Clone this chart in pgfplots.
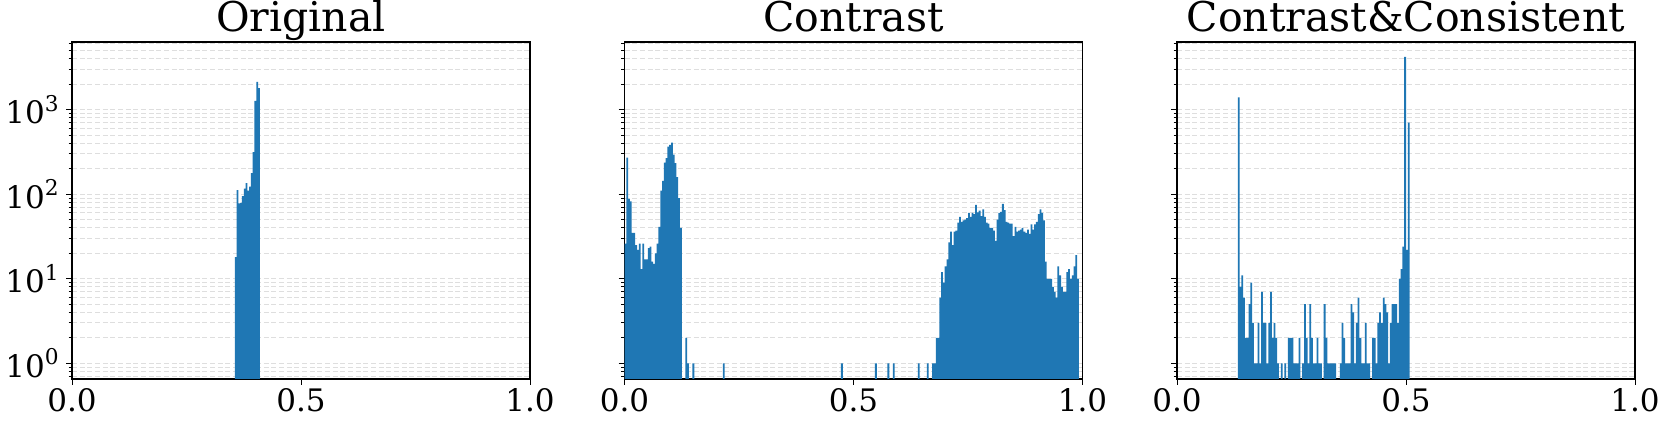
\documentclass[border=0pt]{standalone}
\usepackage{fontspec}
\setmainfont{DejaVu Serif}
\usepackage{pgfplots}
\pgfplotsset{compat=1.18}
\definecolor{barblue}{HTML}{1F77B4}

% bins: 256 equal bins on [0,1]; x = bin index, ticks relabelled
\pgfplotsset{every axis/.append style={
  scale only axis, width=137.4pt, height=101.1pt,
  xmin=-0.5, xmax=255.5, ymin=0.653, ymax=6310,
  xtick={-0.5,127.5,255.5}, xticklabels={0.0,0.5,1.0},
  ytick={1,10,100,1000},
  minor ytick={0.7,0.8,0.9,2,3,4,5,6,7,8,9,20,30,40,50,60,70,80,90,
    200,300,400,500,600,700,800,900,2000,3000,4000,5000,6000},
  xtick pos=bottom, ytick pos=left, tick align=outside,
  major tick length=1.8pt, minor tick length=1pt,
  tick style={black, line width=0.3pt},
  ymajorgrids, yminorgrids,
  grid style={black!13, line width=0.3pt, dash pattern=on 1.5pt off 0.8pt},
  minor grid style={black!13, line width=0.3pt, dash pattern=on 1.5pt off 0.8pt},
  axis line style={line width=0.4pt},
  tick label style={font=\fontsize{9.3}{11}\selectfont},
  xticklabel style={inner sep=1pt},
  yticklabel style={inner sep=1.5pt},
  every axis title/.style={font=\fontsize{12.3}{14}\selectfont, at={(0.5,1)}, anchor=base, yshift=3pt},
}}

\begin{document}
\begin{tikzpicture}
\path[use as bounding box] (0,0) rectangle (498.3pt,127.5pt);

\begin{semilogyaxis}[anchor=south west, at={(21.6pt,13.8pt)}, title={Original},
  log origin=infty, ybar, bar width=1,
  yticklabels={10\textsuperscript{0},10\textsuperscript{1},10\textsuperscript{2},10\textsuperscript{3}}]
\addplot[fill=barblue, draw=none] coordinates {
  (91,18)(92,112)(93,78)(94,79)(95,95)(96,116)(97,135)(98,110)(99,123)
  (100,178)(101,314)(102,1270)(103,2130)(104,1790)
};
\end{semilogyaxis}

\begin{semilogyaxis}[anchor=south west, at={(187.35pt,13.8pt)}, title={Contrast},
  log origin=infty, ybar, bar width=1, yticklabels={}]
\addplot[fill=barblue, draw=none] coordinates {
  (0,26)(1,270)(2,88)(3,82)(4,35)(5,35)(6,25)(7,22)(8,26)(9,13)
  (10,26)(11,17)(12,17)(13,23)(14,24)(15,16)(16,15)(17,20)(18,26)(19,41)
  (20,110)(21,144)(22,236)(23,267)(24,365)(25,383)(26,406)(27,293)(28,233)(29,159)
  (30,90)(31,40)
  (34,2)(35,1)(38,1)(55,1)(121,1)(140,1)(147,1)(150,1)(164,1)(169,1)
  (172,1)(173,1)(174,2)(175,2)(176,6)(177,12)(178,9)(179,14)
  (180,17)(181,27)(182,36)(183,25)(184,36)(185,37)(186,46)(187,54)(188,47)(189,49)
  (190,50)(191,52)(192,60)(193,54)(194,60)(195,58)(196,75)(197,61)(198,64)(199,55)
  (200,66)(201,54)(202,46)(203,45)(204,40)(205,40)(206,37)(207,28)(208,50)(209,60)
  (210,62)(211,77)(212,65)(213,47)(214,46)(215,45)(216,45)(217,32)(218,41)(219,36)
  (220,37)(221,38)(222,40)(223,36)(224,35)(225,38)(226,34)(227,44)(228,38)(229,44)
  (230,47)(231,58)(232,66)(233,60)(234,49)(235,16)(236,10)(237,10)(238,10)(239,8)
  (240,7)(241,6)(242,14)(243,11)(244,8)(245,7)(246,7)(247,12)(248,13)(249,10)
  (250,11)(251,14)(252,19)(253,10)
};
\end{semilogyaxis}

\begin{semilogyaxis}[anchor=south west, at={(353.1pt,13.8pt)}, title={Contrast\&Consistent},
  log origin=infty, ybar, bar width=1, yticklabels={}]
\addplot[fill=barblue, draw=none] coordinates {
  (34,1400)(35,8)(36,11)(37,6)(38,2)(39,2)(40,5)(41,9)(42,3)(43,1)(44,1)
  (45,3)(46,1)(47,7)(48,3)(49,3)(50,1)(51,3)(52,7)(53,2)(54,3)(55,2)(56,1)
  (58,1)(60,1)(62,2)(63,2)(64,2)(65,1)(66,1)(67,1)(68,2)(70,1)(71,5)(72,2)
  (73,1)(74,5)(75,2)(76,1)(77,1)(78,2)(79,1)(80,1)(82,5)(83,2)(84,1)(85,1)
  (86,1)(87,1)(88,1)(91,1)(92,3)(93,2)(94,1)(95,1)(96,1)(97,5)(98,4)(99,1)
  (100,3)(101,6)(102,2)(103,1)(104,1)(105,3)(106,1)(107,1)(109,2)(110,2)
  (111,1)(112,3)(113,4)(114,3)(115,6)(116,5)(117,4)(118,1)(119,3)(120,5)
  (121,5)(122,5)(123,3)(124,10)(125,13)(126,24)(127,4200)(128,22)(129,700)
};
\end{semilogyaxis}
\end{tikzpicture}
\end{document}
